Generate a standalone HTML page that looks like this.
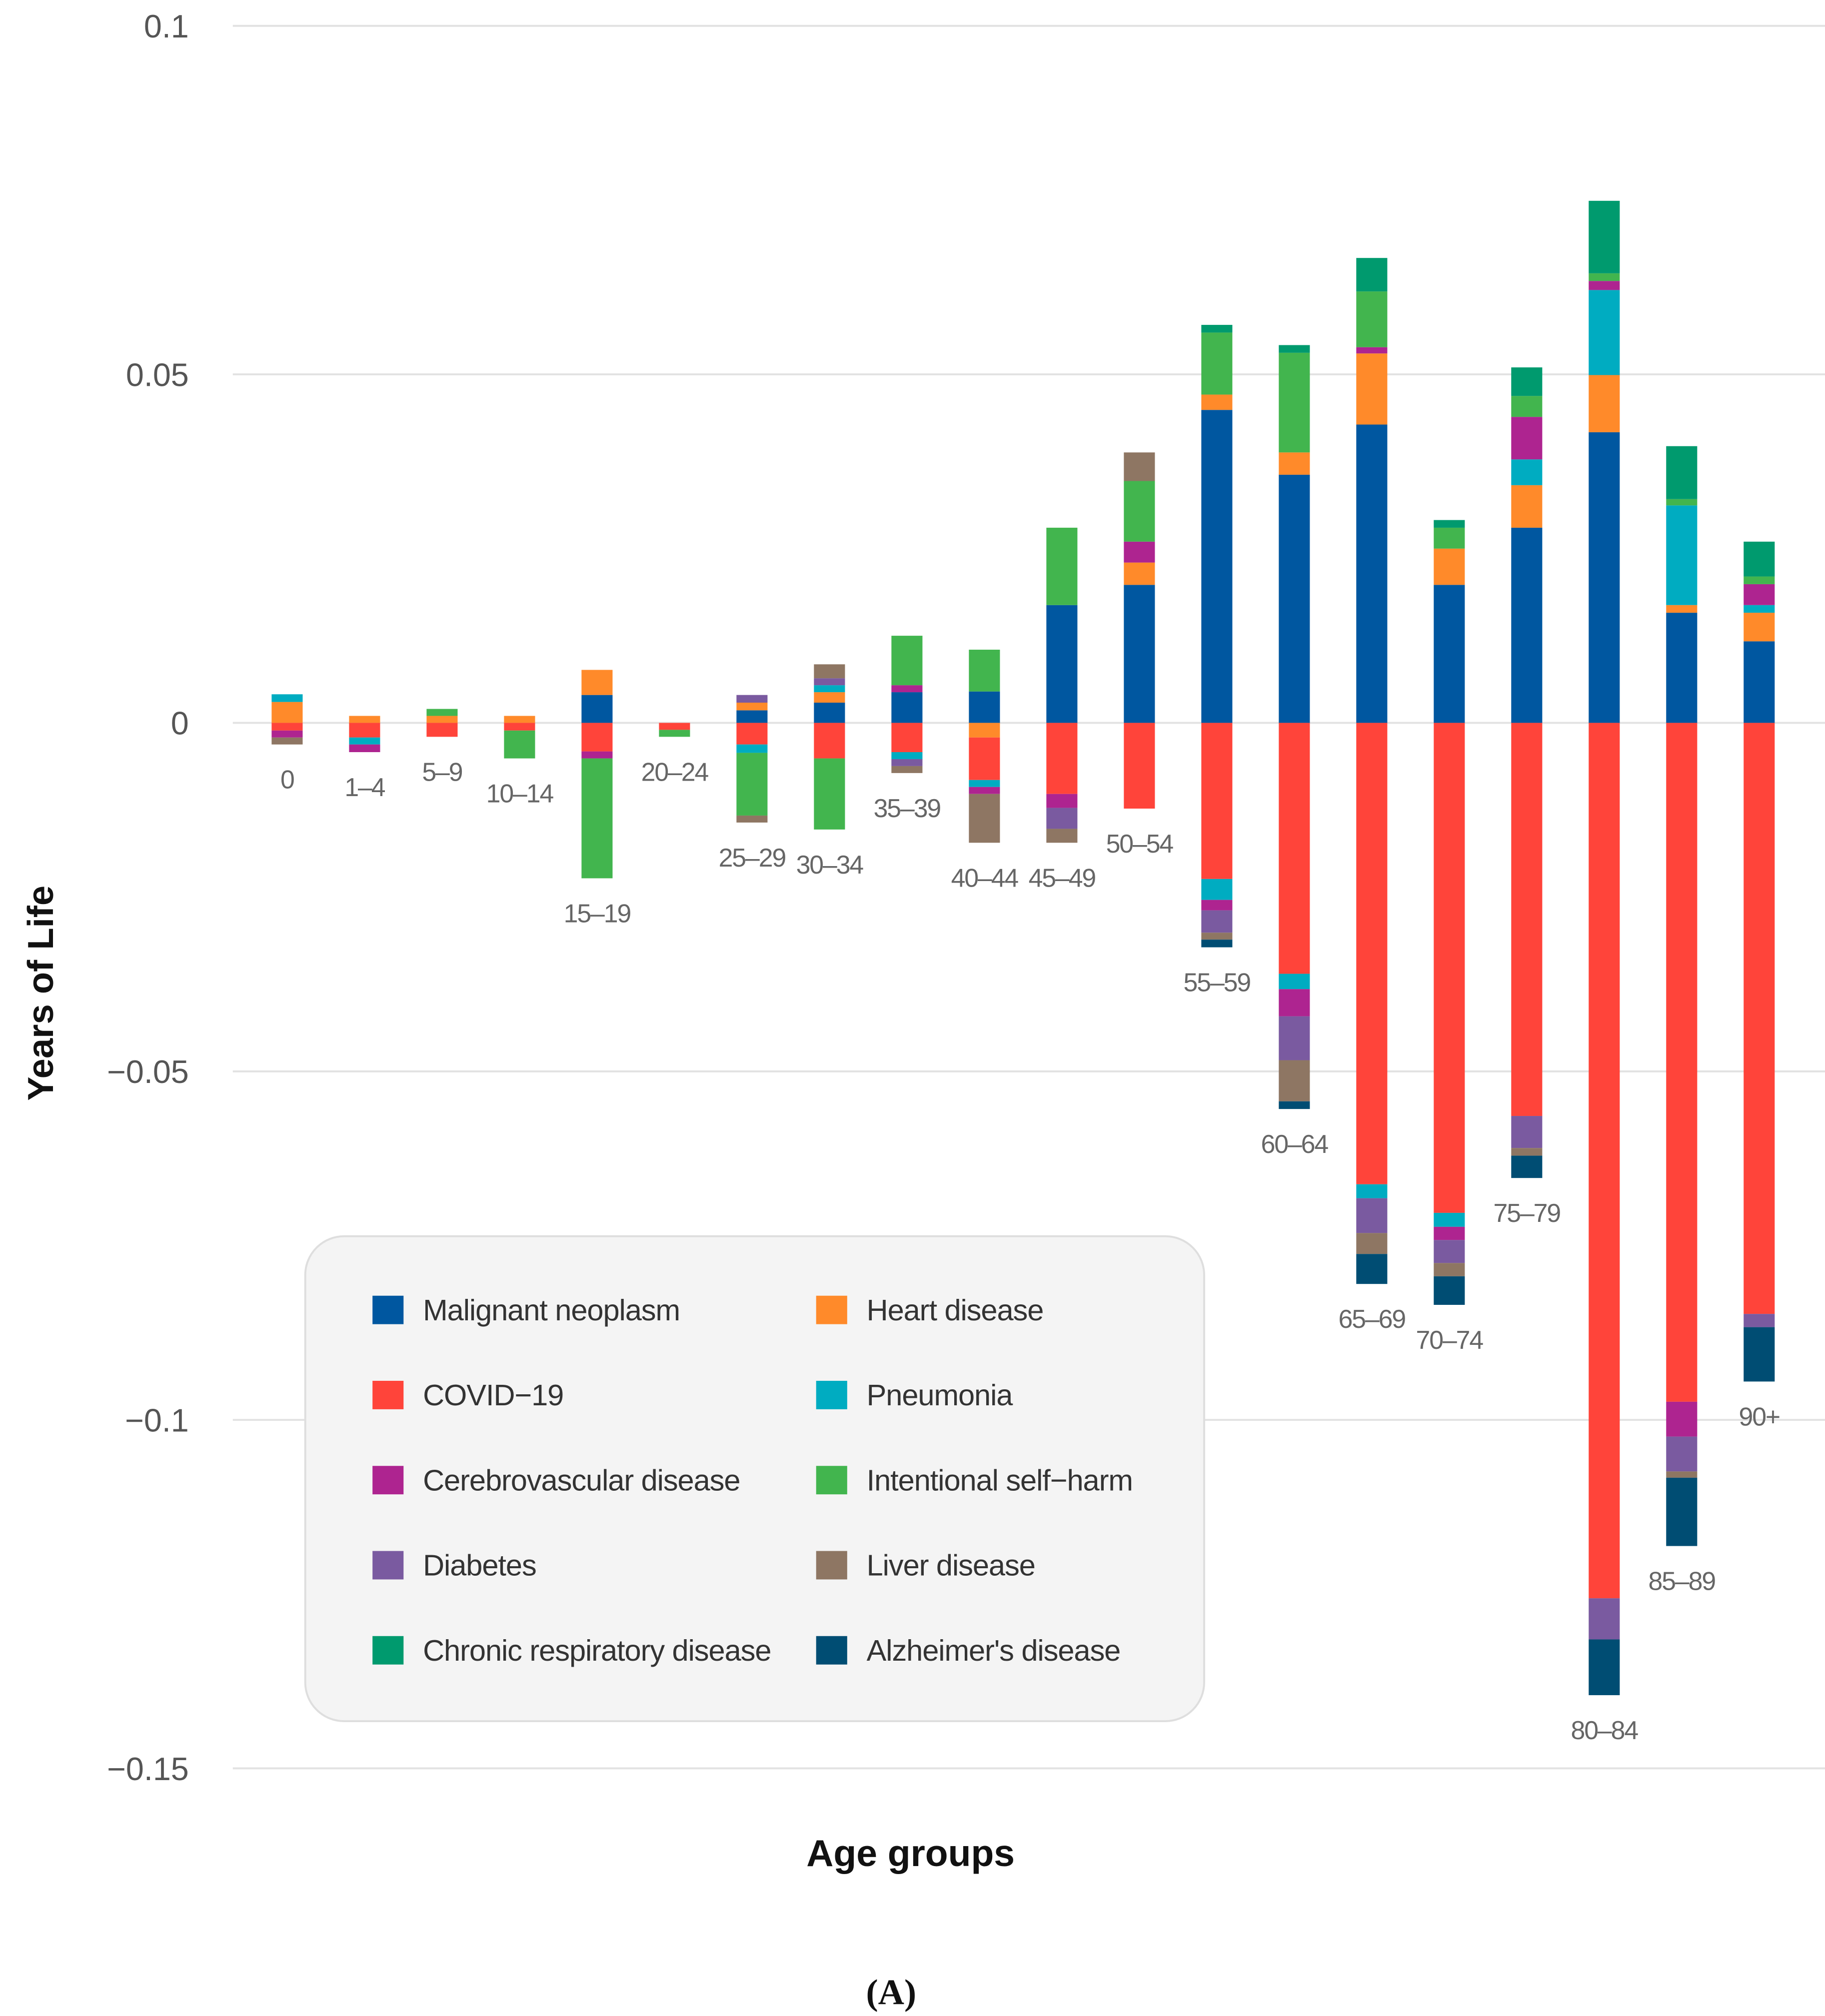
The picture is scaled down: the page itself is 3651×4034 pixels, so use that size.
<!DOCTYPE html>
<html><head><meta charset="utf-8"><style>
html,body{margin:0;padding:0;background:#fff;}
svg{display:block;font-family:"Liberation Sans",sans-serif;}
</style></head><body>
<svg id="chart" xmlns="http://www.w3.org/2000/svg" width="3651" height="4034" viewBox="0 0 1411 1559" preserveAspectRatio="none">
<rect x="0" y="0" width="1411" height="1559" fill="#fff"/>
<g id="grid"></g>
<g id="bars"></g>
<g id="xlabels"></g>
<text x="0" y="0" transform="translate(41,768) rotate(-90)" text-anchor="middle" font-size="28" font-weight="bold" fill="#111">Years of Life</text>
<text x="704" y="1443" text-anchor="middle" font-size="29" font-weight="bold" fill="#111">Age groups</text>
<text x="689" y="1550" text-anchor="middle" font-size="28" font-weight="bold" font-family="Liberation Serif, serif" fill="#111">(A)</text>
<g id="legend">
<rect x="236" y="956" width="695" height="375" rx="30" fill="#f4f4f4" stroke="#dedede" stroke-width="1.5"/>
</g>
</svg>
<script>
const categories = ["0","1-4","5-9","10-14","15-19","20-24","25-29","30-34","35-39","40-44","45-49","50-54","55-59","60-64","65-69","70-74","75-79","80-84","85-89","90+"];
const seriesNames = ["Malignant neoplasm","Heart disease","COVID-19","Pneumonia","Cerebrovascular disease","Diabetes","Intentional self-harm","Liver disease","Chronic respiratory disease","Alzheimer's disease"];
const legendOrder = [0,2,4,5,8,1,3,6,7,9];
const yTicks = [0.1,0.05,0,-0.05,-0.1,-0.15];
const yTickLabels = ["0.1","0.05","0","\u22120.05","\u22120.1","\u22120.15"];
const malignant = [0,0,0,0,0.004,0,0.0018,0.0029,0.0044,0.0045,0.0169,0.0198,0.0449,0.0356,0.0428,0.0198,0.028,0.0417,0.0158,0.0117];
const heart = [0.003,0.001,0.001,0.001,0.0036,0,0.0011,0.0015,0,-0.0021,0,0.0032,0.0022,0.0032,0.0102,0.0052,0.0061,0.0082,0.0011,0.0041];
const covid = [-0.0011,-0.0021,-0.002,-0.0011,-0.0041,-0.001,-0.0031,-0.0051,-0.0042,-0.0061,-0.0102,-0.0123,-0.0224,-0.036,-0.0662,-0.0703,-0.0564,-0.1256,-0.0974,-0.0848];
const pneumonia = [0.0011,-0.001,0,0,0,0,-0.0012,0.001,-0.001,-0.001,0,0,-0.003,-0.0022,-0.002,-0.002,0.0037,0.0122,0.0143,0.0011];
const cerebro = [-0.001,-0.0011,0,0,-0.001,0,0,0,0.001,-0.001,-0.002,0.003,-0.0015,-0.0039,0.0009,-0.0019,0.0061,0.0013,-0.005,0.003];
const diabetes = [0,0,0,0,0,0,0.0011,0.001,-0.001,0,-0.003,0,-0.0032,-0.0063,-0.005,-0.0033,-0.0046,-0.0059,-0.005,-0.0019];
const selfharm = [0,0,0.001,-0.004,-0.0172,-0.001,-0.009,-0.0102,0.0071,0.006,0.0111,0.0087,0.0089,0.0143,0.008,0.003,0.003,0.0011,0.0009,0.0011];
const liver = [-0.001,0,0,0,0,0,-0.001,0.002,-0.001,-0.007,-0.002,0.0041,-0.001,-0.0059,-0.003,-0.0019,-0.0011,0,-0.0009,0];
const chronic = [0,0,0,0,0,0,0,0,0,0,0,0,0.0011,0.0011,0.0048,0.0011,0.0041,0.0104,0.0076,0.005];
const alzheimer = [0,0,0,0,0,0,0,0,0,0,0,0,-0.0011,-0.0011,-0.0043,-0.0041,-0.0032,-0.008,-0.0098,-0.0078];

const series = [malignant,heart,covid,pneumonia,cerebro,diabetes,selfharm,liver,chronic,alzheimer];
const colors = ["#0057a0","#ff8a2a","#ff443a","#00acc1","#ae2490","#7a5aa0","#42b54e","#8e7663","#009a6e","#004d73"];
const keys = ["malignant","heart","covid","pneumonia","cerebro","diabetes","selfharm","liver","chronic","alzheimer"];
const NS="http://www.w3.org/2000/svg";
function y(v){return 559 - v*5390;}
function x(i){return 222 + i*59.9;}
const BW=24;
function mk(tag,attrs){const e=document.createElementNS(NS,tag);for(const k in attrs)e.setAttribute(k,attrs[k]);return e;}

const grid=document.getElementById('grid');
yTicks.forEach((t,i)=>{
  const l=mk('line',{x1:180,x2:1411,y1:y(t),y2:y(t),stroke:'#e2e2e2','stroke-width':1.5});
  
  
  grid.appendChild(l);
  const tx=mk('text',{x:146,y:y(t)+9,'text-anchor':'end','font-size':25,fill:'#555'});
  tx.textContent=yTickLabels[i];
  
  
  grid.appendChild(tx);
});

const bars=document.getElementById('bars');
const xl=document.getElementById('xlabels');
categories.forEach((c,i)=>{
  let pos=0,neg=0;
  series.forEach((s,k)=>{
    const v=s[i]; if(!v) return;
    let y0,y1;
    if(v>0){y0=y(pos+v);y1=y(pos);pos+=v;} else {y0=y(neg);y1=y(neg+v);neg+=v;}
    const r=mk('rect',{x:x(i)-BW/2,y:y0,width:BW,height:y1-y0,fill:colors[k]});
    
    
    bars.appendChild(r);
  });
  const t=mk('text',{x:x(i),y:y(neg)+34,'text-anchor':'middle','font-size':20,'letter-spacing':'-0.8',fill:'#666'});
  t.textContent=c.replace('-','\u2013');
  
  
  xl.appendChild(t);
});

const lg=document.getElementById('legend');
legendOrder.forEach((k,pos)=>{
  const col=pos<5?0:1, row=pos%5;
  const sx=col?631:288, ry=1013+row*65.8;
  const g=mk('g',{});
  
  
  g.appendChild(mk('rect',{x:sx,y:ry-11,width:24,height:22,fill:colors[k]}));
  const t=mk('text',{x:sx+39,y:ry+8,'font-size':23,'letter-spacing':'-0.4',fill:'#333'});
  t.textContent=seriesNames[k].replace('-','\u2212');
  g.appendChild(t);
  lg.appendChild(g);
});
</script>
</body></html>
